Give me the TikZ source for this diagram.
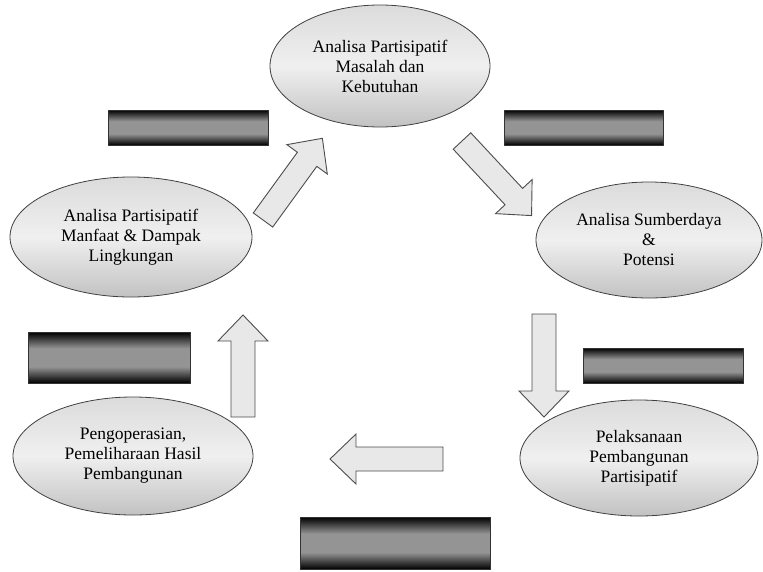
\documentclass[tikz,border=0pt]{standalone}
\usepackage{fontspec}
\setmainfont{Liberation Serif}
\usetikzlibrary{shapes.geometric}

\pgfdeclareverticalshading{barshade}{100bp}{color(0bp)=(black); color(25bp)=(black);
  color(41bp)=(black!42); color(59bp)=(black!42); color(75bp)=(black); color(100bp)=(black)}

\tikzset{
  stage/.style={ellipse, draw=black!75, line width=0.8pt, inner sep=0pt, align=center,
    top color=black!14, bottom color=black!24, middle color=white!94!black,
    font=\fontsize{17.5}{20}\selectfont},
  darkbar/.style={draw=black!80, line width=0.5pt, shading=barshade},
  blockarrow/.style={draw=black!70, line width=0.9pt, fill=black!9, line join=miter}
}

% block arrow: tail centre, angle, length
\newcommand{\blkarrow}[3]{%
  \draw[blockarrow, shift={#1}, rotate=#2]
    (0,-12) -- ({#3-26},-12) -- ({#3-26},-25) -- (#3,0)
    -- ({#3-26},25) -- ({#3-26},12) -- (0,12) -- cycle;}

\begin{document}
\begin{tikzpicture}[x=1pt, y=-1pt]
    \useasboundingbox (0,0) rectangle (763,571);

    \node[stage, minimum width=220pt, minimum height=122pt] (masalah)       at (380,66)  {Analisa Partisipatif\\Masalah dan\\Kebutuhan};
    \node[stage, minimum width=226pt, minimum height=116pt] (sumberdaya)    at (649,240) {Analisa Sumberdaya\\\&\\Potensi};
    \node[stage, minimum width=238pt, minimum height=116pt] (pelaksanaan)   at (639,458) {Pelaksanaan\\Pembangunan\\Partisipatif};
    \node[stage, minimum width=240pt, minimum height=118pt] (pengoperasian) at (133,456) {Pengoperasian,\\Pemeliharaan Hasil\\Pembangunan};
    \node[stage, minimum width=242pt, minimum height=120pt] (manfaat)       at (131,237) {Analisa Partisipatif\\Manfaat \& Dampak\\Lingkungan};

    \draw[darkbar] (108,110) rectangle (268,145);   %top left
    \draw[darkbar] (504,110) rectangle (663,145);   %top right
    \draw[darkbar] (28,332)  rectangle (190,383);   %left
    \draw[darkbar] (583,348) rectangle (743,383);   %right
    \draw[darkbar] (300,517) rectangle (490,569);   %bottom

    \blkarrow{(263,220)}{54}{101}     %to masalah
    \blkarrow{(462,141)}{-47}{102}    %to sumberdaya
    \blkarrow{(544,314)}{-90}{103}    %to pelaksanaan
    \blkarrow{(443,459)}{180}{113}    %to pengoperasian
    \blkarrow{(243,417)}{90}{102}     %to manfaat
\end{tikzpicture}
\end{document}
